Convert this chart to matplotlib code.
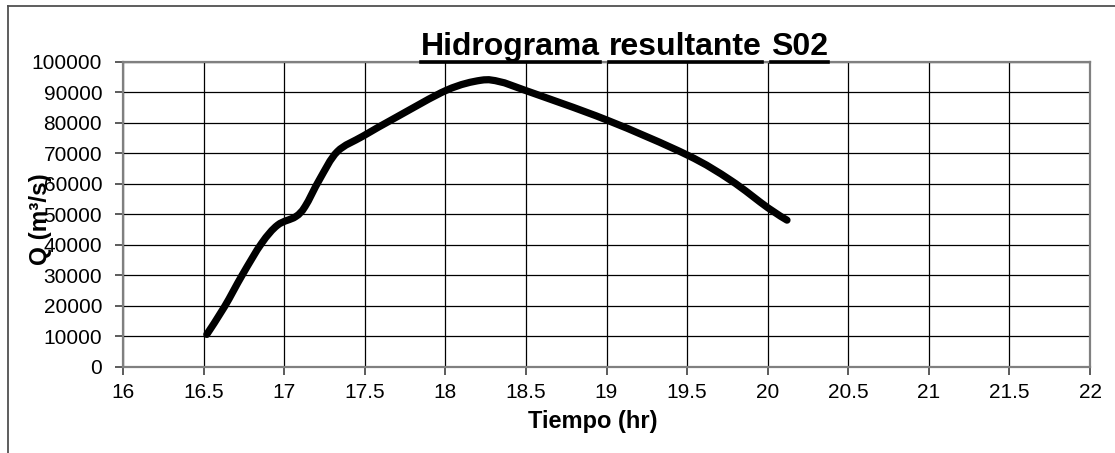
import matplotlib
matplotlib.use("Agg")
import matplotlib.pyplot as plt
from matplotlib.lines import Line2D
from matplotlib.path import Path
from matplotlib.patches import PathPatch

plt.rcParams['font.family'] = ['Liberation Sans', 'DejaVu Sans']

# Datos del hidrograma
tiempo = [16.52, 16.63, 16.74, 16.86, 16.96, 17.07, 17.13, 17.22, 17.33, 17.49,
          17.70, 18.01, 18.22, 18.34, 18.49, 19.0, 19.5, 19.77, 20.0, 20.12]
caudal = [10600, 19700, 30100, 40500, 46500, 49200, 52600, 61500, 70600, 75700,
          82000, 90800, 94000, 93500, 90800, 81000, 69500, 61200, 52200, 48100]

x_ticks = [16, 16.5, 17, 17.5, 18, 18.5, 19, 19.5, 20, 20.5, 21, 21.5, 22]
y_ticks = list(range(0, 100001, 10000))

titulo = "Hidrograma resultante S02"

W, H = 1115, 453
fig = plt.figure(figsize=(W / 100, H / 100), dpi=100)
ax = fig.add_axes([123 / W, 1 - 366.7 / H, (1090 - 123) / W, (366.7 - 62) / H])

# linea suavizada tipo Excel (curvas de Bezier entre los puntos)
pts = list(zip(tiempo, caudal))
n = len(pts)
verts = [pts[0]]
codes = [Path.MOVETO]
for i in range(n - 1):
    p0 = pts[max(i - 1, 0)]
    p1 = pts[i]
    p2 = pts[i + 1]
    p3 = pts[min(i + 2, n - 1)]
    c1 = (p1[0] + (p2[0] - p0[0]) / 6, p1[1] + (p2[1] - p0[1]) / 6)
    c2 = (p2[0] - (p3[0] - p1[0]) / 6, p2[1] - (p3[1] - p1[1]) / 6)
    verts += [c1, c2, p2]
    codes += [Path.CURVE4] * 3
curva = PathPatch(Path(verts, codes), facecolor='none', edgecolor='black',
                  lw=5.2, capstyle='round', joinstyle='round', zorder=3)
ax.add_patch(curva)

ax.set_xlim(16, 22)
ax.set_ylim(0, 100000)
ax.set_xticks(x_ticks)
ax.set_xticklabels(['%g' % v for v in x_ticks])
ax.set_yticks(y_ticks)
ax.set_yticklabels([str(v) for v in y_ticks])
ax.grid(True, color='black', lw=0.9)
ax.set_axisbelow(True)
for s in ax.spines.values():
    s.set_color('#808080')
    s.set_linewidth(1.6)
ax.tick_params(axis='both', direction='out', length=6, width=1.2,
               color='#404040', labelsize=15)
ax.tick_params(axis='y', pad=9)
ax.tick_params(axis='x', pad=6)

# etiquetas de ejes
fig.text(593 / W, 1 - 428 / H, "Tiempo (hr)", ha='center', va='baseline',
         fontsize=17, fontweight='bold')
fig.text(40 / W, 1 - 219 / H, "Q (m³/s)", ha='center', va='center',
         rotation=90, fontsize=17.5, fontweight='bold')

# titulo subrayado palabra por palabra
renderer = fig.canvas.get_renderer()
palabras = titulo.split()
fs = 23
base_y = 1 - 55 / H
tmp = fig.text(0, 0, titulo, fontsize=fs, fontweight='bold')
total = tmp.get_window_extent(renderer).width
sp = fig.text(0, 0, "a a", fontsize=fs, fontweight='bold')
sp2 = fig.text(0, 0, "aa", fontsize=fs, fontweight='bold')
esp = sp.get_window_extent(renderer).width - sp2.get_window_extent(renderer).width
tmp.remove(); sp.remove(); sp2.remove()
x0 = 624.5 - total / 2
for p in palabras:
    t = fig.text(x0 / W, base_y, p, fontsize=fs, fontweight='bold',
                 ha='left', va='baseline')
    w = t.get_window_extent(renderer).width
    fig.add_artist(Line2D([x0 / W, (x0 + w) / W], [1 - 61.5 / H, 1 - 61.5 / H],
                          color='black', lw=2.6, transform=fig.transFigure))
    x0 += w + esp

# marco exterior
fig.add_artist(Line2D([8 / W, 1], [1 - 6 / H, 1 - 6 / H], color='#505050',
                      lw=1.3, transform=fig.transFigure))
fig.add_artist(Line2D([8 / W, 8 / W], [0, 1 - 6 / H], color='#505050',
                      lw=1.3, transform=fig.transFigure))

fig.savefig('out.png', dpi=100)
